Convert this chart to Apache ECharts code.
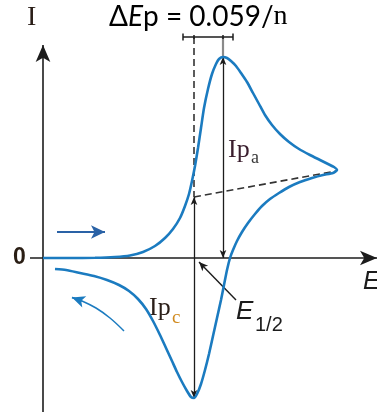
<!DOCTYPE html>
<html>
<head>
<meta charset="utf-8">
<script src="https://cdn.jsdelivr.net/npm/echarts@6/dist/echarts.min.js"></script>
<style>
  html, body { margin: 0; padding: 0; background: #ffffff; }
  #chart { width: 377px; height: 412px; }
</style>
</head>
<body>
<div id="chart"></div>
<script>
// Cyclic voltammogram of a reversible couple (arbitrary units).
// E = electrode potential, I = current; the axes cross at (0, 0).

const potentialRange = [-4.3, 33.4];
const currentRange = [-15.4, 25.8];

// Anodic sweep: flat, rising to the oxidation peak, decaying to the switching potential
const forwardScan = [
  [0, 0], [2.7, 0], [5.2, 0.02], [7.2, 0.1], [8.7, 0.25], [10.0, 0.6],
  [11.2, 1.2], [12.2, 2.0], [13.0, 2.9], [13.7, 4.0], [14.2, 5.2],
  [14.6, 6.4], [14.9, 7.7], [15.2, 9.2], [15.5, 11.0], [15.8, 13.0],
  [16.1, 15.0], [16.5, 16.9], [16.9, 18.4], [17.3, 19.4], [17.6, 19.9],
  [18.0, 20.1], [18.4, 20.0], [18.8, 19.7], [19.3, 19.2], [19.8, 18.5],
  [20.4, 17.6], [21.0, 16.5], [21.6, 15.4], [22.2, 14.3], [22.9, 13.3],
  [23.7, 12.4], [24.6, 11.6], [25.6, 10.9], [26.7, 10.3], [27.7, 9.8],
  [28.5, 9.4], [29.1, 9.1], [29.4, 8.8]
];

// Cathodic sweep: back through zero, down to the reduction peak and tailing off
const reverseScan = [
  [29.0, 8.5], [28.0, 8.3], [26.9, 8.0], [25.7, 7.6], [24.6, 7.1],
  [23.6, 6.5], [22.7, 5.9], [21.9, 5.2], [21.2, 4.4], [20.5, 3.5],
  [19.9, 2.6], [19.4, 1.7], [19.0, 0.8], [18.7, 0], [18.4, -1.2],
  [18.1, -2.7], [17.8, -4.2], [17.4, -6.0], [17.0, -7.8], [16.6, -9.6],
  [16.2, -11.2], [15.8, -12.6], [15.4, -13.6], [15.1, -14.0], [14.8, -13.9],
  [14.4, -13.3], [13.9, -12.4], [13.4, -11.4], [12.9, -10.3], [12.3, -9.0],
  [11.7, -7.7], [11.0, -6.3], [10.3, -5.1], [9.5, -4.1], [8.6, -3.3],
  [7.6, -2.7], [6.4, -2.2], [5.1, -1.8], [3.7, -1.5], [2.3, -1.2], [1.2, -1.1]
];

const peakAnodic = [18.0, 20.1];
const peakCathodic = [15.1, -14.0];
const baselineFrom = [15.1, 6.1];
const baselineTo = [29.3, 8.7];
const deltaEpLevel = 22.1;
const deltaEpSpan = [14.0, 19.0];
const halfWaveFrom = [19.3, -4.2];
const halfWaveTo = [15.6, -0.4];
const sweepForward = [[1.4, 2.6], [6.2, 2.6]];
const sweepReverse = [[8.1, -7.3], [6.7, -6.0], [5.3, -5.0], [3.9, -4.3], [2.9, -3.95]];
const axisTop = 21.3;
const axisRight = 33.4;
const axisLeftStub = -1.3;

const ink = '#1c1c1c';
const curveBlue = '#1b7bc0';

const chart = echarts.init(document.getElementById('chart'), null, { renderer: 'canvas' });

const option = {
  animation: false,
  backgroundColor: '#ffffff',
  grid: { left: 0, right: 0, top: 0, bottom: 0, containLabel: false },
  xAxis: { type: 'value', min: potentialRange[0], max: potentialRange[1], show: false },
  yAxis: { type: 'value', min: currentRange[0], max: currentRange[1], show: false },
  series: [
    {
      name: 'voltammogram',
      type: 'line',
      data: forwardScan.concat(reverseScan),
      smooth: 0.2,
      showSymbol: false,
      lineStyle: { color: curveBlue, width: 2.6 },
      z: 5
    },
    {
      name: 'axes',
      type: 'lines',
      coordinateSystem: 'cartesian2d',
      symbol: ['none', 'arrow'],
      symbolSize: [[0, 0], [11, 17]],
      lineStyle: { color: ink, width: 1.6, opacity: 1 },
      data: [
        { coords: [[0, currentRange[0]], [0, axisTop]] },
        { coords: [[axisLeftStub, 0], [axisRight, 0]] }
      ],
      z: 2
    },
    {
      name: 'construction',
      type: 'lines',
      coordinateSystem: 'cartesian2d',
      symbol: 'none',
      lineStyle: { color: '#333333', width: 1.6, type: [7, 4], opacity: 1 },
      data: [
        { coords: [[baselineFrom[0], deltaEpLevel], baselineFrom] },
        { coords: [baselineFrom, baselineTo] }
      ],
      z: 3
    },
    {
      name: 'peak currents',
      type: 'lines',
      coordinateSystem: 'cartesian2d',
      symbol: ['arrow', 'arrow'],
      symbolSize: [[5, 8], [5, 8]],
      lineStyle: { color: ink, width: 1.3, opacity: 1 },
      data: [
        { coords: [peakAnodic, [peakAnodic[0], 0]] },
        { coords: [baselineFrom, peakCathodic] }
      ],
      z: 4
    },
    {
      name: 'peak marker',
      type: 'lines',
      coordinateSystem: 'cartesian2d',
      symbol: 'none',
      lineStyle: { color: '#8a8a8a', width: 2.2, opacity: 1 },
      data: [{ coords: [[peakAnodic[0], deltaEpLevel], peakAnodic] }],
      z: 3
    },
    {
      name: 'delta Ep bar',
      type: 'lines',
      coordinateSystem: 'cartesian2d',
      symbol: 'none',
      lineStyle: { color: ink, width: 1.5, opacity: 1 },
      data: [
        { coords: [[deltaEpSpan[0], deltaEpLevel], [deltaEpSpan[1], deltaEpLevel]] },
        { coords: [[deltaEpSpan[0], deltaEpLevel + 0.35], [deltaEpSpan[0], deltaEpLevel - 0.35]] },
        { coords: [[deltaEpSpan[1], deltaEpLevel + 0.35], [deltaEpSpan[1], deltaEpLevel - 0.35]] },
        { coords: [[baselineFrom[0], deltaEpLevel + 0.2], [baselineFrom[0], deltaEpLevel - 0.2]] },
        { coords: [[peakAnodic[0], deltaEpLevel + 0.2], [peakAnodic[0], deltaEpLevel - 0.2]] }
      ],
      z: 4
    },
    {
      name: 'half-wave pointer',
      type: 'lines',
      coordinateSystem: 'cartesian2d',
      symbol: ['none', 'arrow'],
      symbolSize: [[0, 0], [6, 9]],
      lineStyle: { color: ink, width: 1.4, opacity: 1 },
      data: [{ coords: [halfWaveFrom, halfWaveTo] }],
      z: 4
    },
    {
      name: 'forward sweep',
      type: 'lines',
      coordinateSystem: 'cartesian2d',
      symbol: ['none', 'arrow'],
      symbolSize: [[0, 0], [10, 14]],
      lineStyle: { color: '#2a62a6', width: 2.2, opacity: 1 },
      data: [{ coords: sweepForward }],
      z: 4
    },
    {
      name: 'reverse sweep',
      type: 'line',
      data: sweepReverse,
      smooth: 0.4,
      showSymbol: false,
      lineStyle: { color: curveBlue, width: 1.5 },
      z: 4
    },
    {
      name: 'reverse sweep head',
      type: 'lines',
      coordinateSystem: 'cartesian2d',
      symbol: ['none', 'arrow'],
      symbolSize: [[0, 0], [9, 13]],
      lineStyle: { color: curveBlue, width: 1.5, opacity: 1 },
      data: [{ coords: [sweepReverse[sweepReverse.length - 2], sweepReverse[sweepReverse.length - 1]] }],
      z: 4
    }
  ],
  graphic: [
    { type: 'text', left: 27, top: 4, style: { text: 'I', font: '28px "Liberation Serif"', fill: '#2a1e18' } },
    { type: 'text', left: 13, top: 246, style: { text: '0', font: 'bold 23px "Liberation Sans"', fill: '#2a1e14' } },
    { type: 'text', left: 363, top: 270, style: { text: 'E', font: 'italic 25px "Liberation Sans"', fill: ink } },
    {
      type: 'text', left: 109, top: 3,
      style: {
        text: '{d|Δ}{e|E}{d|p = }{n|0.059/}{s|n}',
        rich: {
          d: { fontFamily: 'Lato', fontSize: 28, color: '#1a1a2a' },
          e: { fontFamily: 'Lato', fontStyle: 'italic', fontSize: 28, color: '#1a1a2a' },
          n: { fontFamily: 'Lato', fontSize: 28, color: '#b0641f' },
          s: { fontFamily: 'Liberation Serif', fontSize: 28, color: '#3a2a1a' }
        }
      }
    },
    { type: 'text', left: 228, top: 137, style: { text: 'Ip', font: '26px "Liberation Serif"', fill: '#3a1e2e' } },
    { type: 'text', left: 251, top: 149, style: { text: 'a', font: '18px "Liberation Serif"', fill: '#3a3a3a' } },
    { type: 'text', left: 149, top: 295, style: { text: 'Ip', font: '26px "Liberation Serif"', fill: '#2a1e18' } },
    { type: 'text', left: 172, top: 309, style: { text: 'c', font: '19px "Liberation Serif"', fill: '#d08a1e' } },
    { type: 'text', left: 236, top: 299, style: { text: 'E', font: 'italic 26px "Liberation Sans"', fill: ink } },
    { type: 'text', left: 255, top: 315, style: { text: '1/2', font: '20px "Liberation Sans"', fill: ink } }
  ]
};

chart.setOption(option);
</script>
</body>
</html>
